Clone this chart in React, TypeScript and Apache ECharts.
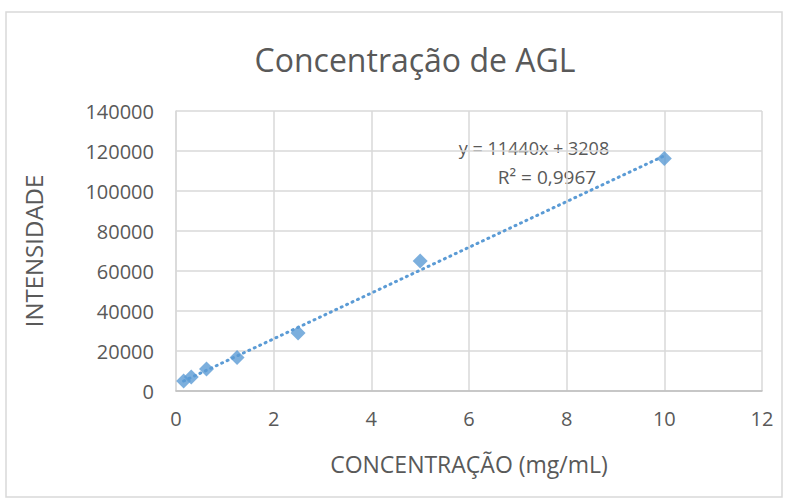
import React, { useEffect, useRef } from "react";
import * as echarts from "echarts";

const concentrations = [0.15625, 0.3125, 0.625, 1.25, 2.5, 5, 10];
const intensities = [5000, 7000, 11000, 16800, 29000, 65000, 116300];
const slope = 11440;
const intercept = 3208;
const xTicks = [0, 2, 4, 6, 8, 10, 12];
const yTicks = [0, 20000, 40000, 60000, 80000, 100000, 120000, 140000];
const titleText = "Concentração de AGL";
const xTitle = "CONCENTRAÇÃO (mg/mL)";
const yTitle = "INTENSIDADE";
const eqText = "y = 11440x + 3208";
const r2Text = "R² = 0,9967";

const FONT = "'Open Sans', 'Noto Sans', sans-serif";
const TXT = "#595959";
const BLUE = "#5b9bd5";

export default function App() {
  const ref = useRef<HTMLDivElement>(null);
  useEffect(() => {
    if (!ref.current) return;
    const chart = echarts.init(ref.current, null, { renderer: "svg" });
    const xs = [concentrations[0], concentrations[concentrations.length - 1]];
    const trend = xs.map((x) => [x, slope * x + intercept]);
    chart.setOption({
      animation: false,
      backgroundColor: "#fff",
      textStyle: { fontFamily: FONT },
      title: {
        text: titleText,
        left: 410,
        top: 38,
        textAlign: "center",
        textStyle: { fontFamily: FONT, fontSize: 32, fontWeight: "normal", color: TXT },
      },
      grid: { left: 176, right: 25, top: 111, bottom: 112 },
      xAxis: {
        type: "value",
        min: xTicks[0],
        max: xTicks[xTicks.length - 1],
        interval: 2,
        name: xTitle,
        nameLocation: "middle",
        nameGap: 61,
        nameTextStyle: { fontFamily: FONT, fontSize: 23, color: TXT },
        axisLine: { show: true, lineStyle: { color: "#bfbfbf", width: 1.5 } },
        axisTick: { show: false },
        axisLabel: { fontFamily: FONT, fontSize: 20, color: TXT, margin: 17 },
        splitLine: { show: true, lineStyle: { color: "#d9d9d9", width: 1.5 } },
      },
      yAxis: {
        type: "value",
        min: yTicks[0],
        max: yTicks[yTicks.length - 1],
        interval: 20000,
        name: yTitle,
        nameLocation: "middle",
        nameGap: 131,
        nameTextStyle: { fontFamily: FONT, fontSize: 24, color: TXT },
        axisLine: { show: true, lineStyle: { color: "#d9d9d9", width: 1.5 } },
        axisTick: { show: false },
        axisLabel: {
          fontFamily: FONT,
          fontSize: 20,
          color: TXT,
          margin: 22,
          formatter: (v: number) => String(v),
        },
        splitLine: { show: true, lineStyle: { color: "#d9d9d9", width: 1.5 } },
      },
      series: [
        {
          type: "line",
          data: trend,
          showSymbol: false,
          symbol: "none",
          lineStyle: { color: BLUE, width: 3, type: [1, 5], cap: "round" },
          silent: true,
          z: 2,
        },
        {
          type: "scatter",
          data: concentrations.map((c, i) => [c, intensities[i]]),
          symbol: "diamond",
          symbolSize: 15,
          itemStyle: { color: BLUE },
          z: 3,
        },
      ],
      graphic: [
        {
          type: "rect",
          shape: { x: 6, y: 12, width: 776, height: 485 },
          style: { fill: "none", stroke: "#d9d9d9", lineWidth: 1.5 },
          silent: true,
        },
        {
          type: "text",
          x: 534,
          y: 148,
          style: { text: eqText, fontFamily: FONT, fontSize: 18, fill: TXT, align: "center", verticalAlign: "middle" },
        },
        {
          type: "text",
          x: 547,
          y: 177,
          style: { text: r2Text, fontFamily: FONT, fontSize: 19, fill: TXT, align: "center", verticalAlign: "middle" },
        },
      ],
    });
    return () => chart.dispose();
  }, []);
  return (
    <div
      ref={ref}
      style={{ position: "fixed", left: 0, top: 0, width: 787, height: 503 }}
    />
  );
}
